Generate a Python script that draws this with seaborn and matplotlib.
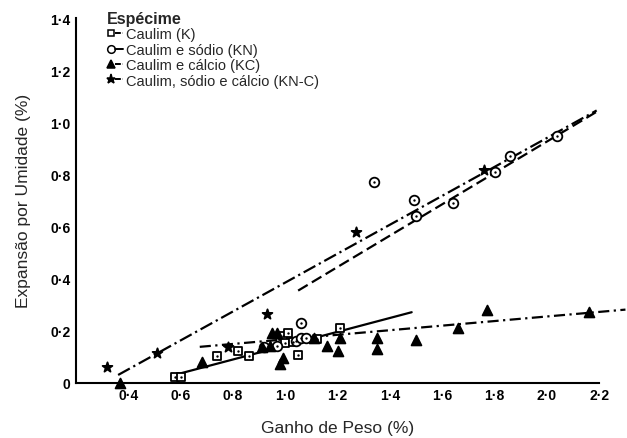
import matplotlib
matplotlib.use("Agg")
import matplotlib.pyplot as plt
import seaborn as sns
import pandas as pd
from matplotlib.lines import Line2D
from matplotlib.legend_handler import HandlerTuple

# --- measured points -------------------------------------------------------
# Caulim (K)
k_x = [0.58, 0.60, 0.74, 0.82, 0.86, 0.99, 1.00, 1.01, 1.03, 1.05, 1.12, 1.21]
k_y = [0.02, 0.02, 0.10, 0.12, 0.10, 0.18, 0.15, 0.19, 0.155, 0.105, 0.167, 0.21]
# Caulim e sódio (KN)
kn_x = [0.92, 0.97, 1.04, 1.06, 1.08, 1.06, 1.34, 1.49, 1.50, 1.64, 1.80, 1.86, 2.04]
kn_y = [0.135, 0.14, 0.16, 0.17, 0.17, 0.23, 0.77, 0.70, 0.64, 0.69, 0.81, 0.87, 0.945]
# Caulim e cálcio (KC)
kc_x = [0.37, 0.68, 0.91, 0.94, 0.95, 0.97, 0.98, 0.99, 1.11, 1.16, 1.20, 1.21,
        1.35, 1.35, 1.50, 1.66, 1.77, 2.16]
kc_y = [0.0, 0.08, 0.135, 0.14, 0.19, 0.19, 0.07, 0.095, 0.17, 0.14, 0.12, 0.17,
        0.13, 0.17, 0.165, 0.21, 0.28, 0.27]
# Caulim, sódio e cálcio (KN-C)
knc_x = [0.32, 0.51, 0.78, 0.93, 1.27, 1.76]
knc_y = [0.06, 0.115, 0.135, 0.265, 0.58, 0.815]

# fitted regression lines (end points)
k_fit_x, k_fit_y = [0.565, 1.483], [0.026, 0.270]
kn_fit_x, kn_fit_y = [1.049, 2.19], [0.353, 1.040]
kc_fit_x, kc_fit_y = [0.673, 2.30], [0.137, 0.280]
knc_fit_x, knc_fit_y = [0.361, 2.19], [0.029, 1.045]

series_labels = ["Caulim (K)", "Caulim e sódio (KN)",
                 "Caulim e cálcio (KC)", "Caulim, sódio e cálcio (KN-C)"]
legend_title = "Espécime"
x_label = "Ganho de Peso (%)"
y_label = "Expansão por Umidade (%)"

x_ticks = [0.4, 0.6, 0.8, 1.0, 1.2, 1.4, 1.6, 1.8, 2.0, 2.2]
x_tick_labels = ["0·4", "0·6", "0·8", "1·0", "1·2", "1·4", "1·6", "1·8", "2·0", "2·2"]
y_ticks = [0.0, 0.2, 0.4, 0.6, 0.8, 1.0, 1.2, 1.4]
y_tick_labels = ["0", "0·2", "0·4", "0·6", "0·8", "1·0", "1·2", "1·4"]

# --- figure ------------------------------------------------------------------
sns.set_style("white")
plt.rcParams["font.family"] = ["Liberation Sans", "DejaVu Sans"]

fig = plt.figure(figsize=(6.27, 4.39), dpi=100)
ax = fig.add_axes([0.1212, 0.1264, 0.8346, 0.8303])

line_kw = dict(color="black", linewidth=1.6, ax=ax, legend=False)
styles = {
    "K": "-",
    "KN": (0, (5, 2.2)),
    "KC": (0, (5, 2.0, 1.0, 2.0)),
    "KNC": (0, (6, 1.8, 1.0, 1.8)),
}

for fx, fy, key in [(k_fit_x, k_fit_y, "K"), (kn_fit_x, kn_fit_y, "KN"),
                    (kc_fit_x, kc_fit_y, "KC"), (knc_fit_x, knc_fit_y, "KNC")]:
    sns.lineplot(x=fx, y=fy, linestyle=styles[key], clip_on=False, **line_kw)

def scatter(xs, ys, marker, size, face):
    df = pd.DataFrame({"x": xs, "y": ys})
    sns.scatterplot(data=df, x="x", y="y", marker=marker, s=size,
                    facecolor=face, edgecolor="black", linewidth=1.3,
                    ax=ax, zorder=3, clip_on=False, legend=False)
    if face == "white":
        sns.scatterplot(data=df, x="x", y="y", marker="o", s=3,
                        color="black", linewidth=0, ax=ax, zorder=4,
                        clip_on=False, legend=False)

scatter(k_x, k_y, "s", 30, "white")
scatter(kn_x, kn_y, "o", 48, "white")
scatter(kc_x, kc_y, "^", 50, "black")
scatter(knc_x, knc_y, "*", 55, "black")

ax.set_xlim(0.2, 2.2)
ax.set_ylim(0.0, 1.4)
ax.set_xticks(x_ticks)
ax.set_xticklabels(x_tick_labels)
ax.set_yticks(y_ticks)
ax.set_yticklabels(y_tick_labels)
ax.tick_params(axis="both", direction="in", length=4, width=1.2,
               labelsize=10, pad=4, colors="black")
for lab in ax.get_xticklabels() + ax.get_yticklabels():
    lab.set_fontweight("bold")

for side in ["top", "right"]:
    ax.spines[side].set_visible(False)
for side in ["left", "bottom"]:
    ax.spines[side].set_linewidth(1.5)
    ax.spines[side].set_color("black")

ax.set_xlabel(x_label, fontsize=12.5, labelpad=13)
ax.set_ylabel(y_label, fontsize=12.5, labelpad=14)

# legend: marker followed by a short stroke of the series' line style
def mk(marker, size, face):
    return Line2D([], [], linestyle="none", marker=marker, markersize=size,
                  markerfacecolor=face, markeredgecolor="black",
                  markeredgewidth=1.1)

def stroke(ls):
    return Line2D([], [], color="black", linewidth=1.4, linestyle=ls)

handles = [
    (mk("s", 4.5, "white"), stroke((0, (3, 1)))),
    (mk("o", 5.5, "white"), stroke("-")),
    (mk("^", 5.5, "black"), stroke((0, (3, 1)))),
    (mk("*", 6.5, "black"), stroke((0, (3, 1)))),
]
leg = ax.legend(handles, series_labels, title=legend_title,
                handler_map={tuple: HandlerTuple(ndivide=None, pad=0)},
                loc="upper left", bbox_to_anchor=(0.046, 1.04),
                frameon=False, fontsize=10.5, handlelength=1.1,
                handletextpad=0.2, labelspacing=0.1, borderpad=0,
                alignment="left", title_fontproperties={"weight": "bold", "size": 11.5})

fig.savefig("out.png", dpi=100, facecolor="white")
